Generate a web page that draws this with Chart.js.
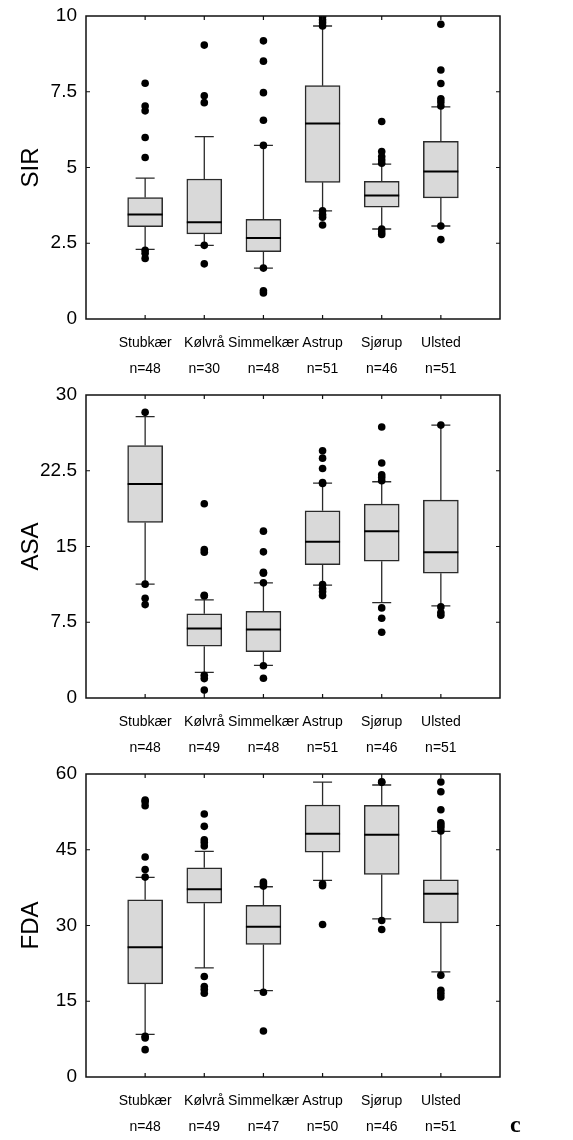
<!DOCTYPE html>
<html lang="da">
<head>
<meta charset="UTF-8">
<title>SIR, ASA og FDA pr. lokalitet</title>
<script src="https://cdn.jsdelivr.net/npm/chart.js"></script>
<style>
  body { margin: 0; background: #fff; }
  #wrap { position: relative; width: 573px; height: 1140px; }
  #wrap canvas { position: absolute; left: 0; }
  #tag { position: absolute; left: 510px; top: 1111px; font: bold 24px "Liberation Serif", "DejaVu Serif", serif; color: #000; }
</style>
</head>
<body>
<div id="wrap">
  <canvas id="sirChart" width="573" height="379" style="top:0px"></canvas>
  <canvas id="asaChart" width="573" height="379" style="top:379px"></canvas>
  <canvas id="fdaChart" width="573" height="379" style="top:758px"></canvas>
  <div id="tag">c</div>
</div>
<script>
// lokaliteter (samme rækkefølge i alle tre paneler)
const sites = ['Stubkær', 'Kølvrå', 'Simmelkær', 'Astrup', 'Sjørup', 'Ulsted'];

// SIR
const sirN   = [48, 30, 48, 51, 46, 51];
const sirLo  = [2.30, 2.43, 1.68, 3.57, 2.97, 3.07];
const sirQ1  = [3.05, 2.81, 2.22, 4.51, 3.69, 4.00];
const sirMed = [3.45, 3.19, 2.67, 6.45, 4.08, 4.87];
const sirQ3  = [4.01, 4.62, 3.29, 7.70, 4.54, 5.86];
const sirHi  = [4.65, 6.02, 5.73, 9.67, 5.11, 7.00];
const sirOut = [
  [7.78, 7.03, 6.87, 5.99, 5.33, 2.27, 2.17, 2.00],
  [9.04, 7.37, 7.14, 2.43, 1.82],
  [9.18, 8.51, 7.47, 6.56, 5.73, 1.68, 0.93, 0.86],
  [9.98, 9.88, 9.78, 9.67, 3.57, 3.44, 3.36, 3.10],
  [6.52, 5.53, 5.36, 5.25, 5.14, 2.97, 2.87, 2.79],
  [9.73, 8.22, 7.77, 7.27, 7.16, 7.03, 3.07, 2.62]
];
const sirTicks = [0, 2.5, 5, 7.5, 10];

// ASA
const asaN   = [48, 49, 48, 51, 46, 51];
const asaLo  = [11.27, 2.54, 3.24, 11.17, 9.45, 9.12];
const asaQ1  = [17.38, 5.12, 4.59, 13.21, 13.54, 12.36];
const asaMed = [21.18, 6.87, 6.77, 15.46, 16.52, 14.44];
const asaQ3  = [25.00, 8.33, 8.59, 18.53, 19.19, 19.59];
const asaHi  = [27.85, 9.71, 11.40, 21.27, 21.41, 27.02];
const asaOut = [
  [28.28, 11.27, 9.88, 9.25],
  [19.23, 14.70, 14.44, 10.18, 10.11, 2.25, 1.92, 0.78],
  [16.52, 14.47, 12.45, 12.36, 11.40, 3.20, 1.95],
  [24.48, 23.75, 22.73, 21.34, 21.24, 11.23, 10.84, 10.51, 10.14],
  [26.83, 23.26, 22.10, 21.84, 21.51, 8.92, 7.90, 6.51],
  [27.02, 9.02, 8.46, 8.19]
];
const asaTicks = [0, 7.5, 15, 22.5, 30];

// FDA
const fdaN   = [48, 49, 47, 50, 46, 51];
const fdaLo  = [8.46, 21.61, 17.12, 38.92, 31.32, 20.82];
const fdaQ1  = [18.44, 34.43, 26.23, 44.54, 40.11, 30.53];
const fdaMed = [25.71, 37.20, 29.74, 48.17, 47.97, 36.28];
const fdaQ3  = [35.09, 41.43, 33.97, 53.86, 53.79, 39.05];
const fdaHi  = [39.52, 44.67, 37.67, 58.41, 57.82, 48.64];
const fdaOut = [
  [54.85, 54.52, 53.72, 43.55, 41.10, 39.58, 8.06, 7.73, 5.42],
  [52.07, 49.63, 46.98, 46.45, 45.73, 19.89, 17.91, 17.31, 16.59],
  [38.59, 38.26, 37.80, 16.78, 9.12],
  [38.26, 37.86, 30.20],
  [58.48, 58.35, 30.99, 29.21],
  [58.41, 56.50, 52.93, 50.35, 49.89, 49.43, 48.70, 20.15, 17.18, 16.52, 15.86]
];
const fdaTicks = [0, 15, 30, 45, 60];

const FONT = '"Liberation Sans", Arial, Helvetica, sans-serif';

// whiskers, medianer og ramme tegnes med chartets egne skalaer
function boxParts(lo, med, q1, q3, hi) {
  return {
    id: 'boxParts',
    beforeDatasetsDraw(chart) {
      const { ctx, scales: { x, y } } = chart;
      ctx.save();
      ctx.strokeStyle = '#2a2a2a';
      ctx.lineWidth = 1.3;
      sites.forEach((s, i) => {
        const cx = x.getPixelForValue(i + 1);
        const yLo = y.getPixelForValue(lo[i]);
        const yHi = y.getPixelForValue(hi[i]);
        ctx.beginPath();
        ctx.moveTo(cx, y.getPixelForValue(q3[i]));
        ctx.lineTo(cx, yHi);
        ctx.moveTo(cx, y.getPixelForValue(q1[i]));
        ctx.lineTo(cx, yLo);
        ctx.moveTo(cx - 9.5, yHi);
        ctx.lineTo(cx + 9.5, yHi);
        ctx.moveTo(cx - 9.5, yLo);
        ctx.lineTo(cx + 9.5, yLo);
        ctx.stroke();
      });
      ctx.restore();
    },
    afterDatasetDraw(chart, args) {
      if (args.meta.type !== 'bar') return;
      const { ctx, scales: { y } } = chart;
      ctx.save();
      ctx.strokeStyle = '#000';
      ctx.lineWidth = 2;
      args.meta.data.forEach((bar, i) => {
        const my = y.getPixelForValue(med[i]);
        ctx.beginPath();
        ctx.moveTo(bar.x - bar.width / 2, my);
        ctx.lineTo(bar.x + bar.width / 2, my);
        ctx.stroke();
      });
      ctx.restore();
    },
    afterDraw(chart) {
      const { ctx, chartArea: a, scales: { x, y } } = chart;
      ctx.save();
      ctx.strokeStyle = '#111';
      ctx.lineWidth = 1.5;
      ctx.strokeRect(a.left, a.top, a.right - a.left, a.bottom - a.top);
      ctx.lineWidth = 1.2;
      ctx.beginPath();
      x.ticks.forEach(t => {
        const px = x.getPixelForValue(t.value);
        ctx.moveTo(px, a.bottom); ctx.lineTo(px, a.bottom - 4);
        ctx.moveTo(px, a.top); ctx.lineTo(px, a.top + 4);
      });
      y.ticks.forEach(t => {
        const py = y.getPixelForValue(t.value);
        if (t.value === y.min || t.value === y.max) return;
        ctx.moveTo(a.left, py); ctx.lineTo(a.left + 4, py);
        ctx.moveTo(a.right, py); ctx.lineTo(a.right - 4, py);
      });
      ctx.stroke();
      ctx.restore();
    }
  };
}

function drawPanel(id, title, yTicks, n, lo, q1, med, q3, hi, out) {
  const boxes = sites.map((s, i) => ({ x: i + 1, y: [q1[i], q3[i]] }));
  const points = [];
  out.forEach((vals, i) => vals.forEach(v => points.push({ x: i + 1, y: v })));

  new Chart(document.getElementById(id), {
    type: 'bar',
    data: {
      datasets: [{
        type: 'bar',
        data: boxes,
        backgroundColor: '#d9d9d9',
        borderColor: '#2a2a2a',
        borderWidth: 1.5,
        borderSkipped: false,
        barThickness: 35,
        order: 2
      }, {
        type: 'scatter',
        data: points,
        backgroundColor: '#000',
        borderWidth: 0,
        pointRadius: 3.8,
        order: 1
      }]
    },
    options: {
      responsive: false,
      animation: false,
      devicePixelRatio: 1,
      layout: { padding: { top: 16, right: 73, left: 0, bottom: 0 } },
      plugins: { legend: { display: false }, tooltip: { enabled: false } },
      scales: {
        x: {
          type: 'linear',
          min: 0,
          max: 7,
          offset: false,
          grid: { display: false, drawTicks: false },
          border: { display: false },
          afterBuildTicks: sc => { sc.ticks = sites.map((s, i) => ({ value: i + 1 })); },
          afterFit: sc => { sc.height = 60; },
          ticks: {
            autoSkip: false,
            maxRotation: 0,
            padding: 12,
            color: '#000',
            font: { family: FONT, size: 14, lineHeight: 1.8 },
            callback: v => [sites[v - 1], 'n=' + n[v - 1]]
          }
        },
        y: {
          type: 'linear',
          min: yTicks[0],
          max: yTicks[yTicks.length - 1],
          grid: { display: false, drawTicks: false },
          border: { display: false },
          afterBuildTicks: sc => { sc.ticks = yTicks.map(v => ({ value: v })); },
          afterFit: sc => {
            sc.width = 86;
            // kun layout.padding bestemmer plotområdets top
            sc.paddingTop = 0;
            sc.paddingBottom = 0;
          },
          ticks: {
            padding: 9,
            color: '#000',
            font: { family: FONT, size: 19 },
            callback: v => String(v)
          },
          title: {
            display: true,
            text: title,
            color: '#000',
            font: { family: FONT, size: 24 },
            padding: { top: 17, bottom: 0 }
          }
        }
      }
    },
    plugins: [boxParts(lo, med, q1, q3, hi)]
  });
}

drawPanel('sirChart', 'SIR', sirTicks, sirN, sirLo, sirQ1, sirMed, sirQ3, sirHi, sirOut);
drawPanel('asaChart', 'ASA', asaTicks, asaN, asaLo, asaQ1, asaMed, asaQ3, asaHi, asaOut);
drawPanel('fdaChart', 'FDA', fdaTicks, fdaN, fdaLo, fdaQ1, fdaMed, fdaQ3, fdaHi, fdaOut);
</script>
</body>
</html>
